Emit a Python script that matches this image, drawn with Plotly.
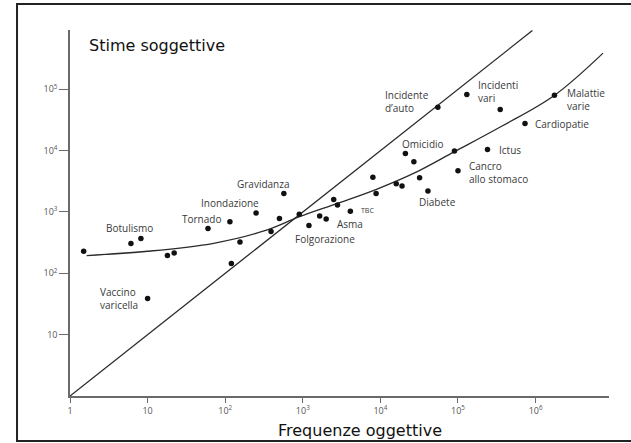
import math
import plotly.graph_objects as go

# ---- data ----
causes = ["", "Botulismo", "", "", "", "Vaccino<br>varicella", "", "Tornado", "", "",
          "Inondazione", "", "", "Gravidanza", "", "Folgorazione", "", "Asma", "", "",
          "TBC", "", "", "", "", "", "Diabete", "Omicidio", "", "",
          "Cancro<br>allo stomaco", "Ictus", "Incidente<br>d’auto", "Incidenti<br>vari", "",
          "Cardiopatie", "Malattie<br>varie"]
freq_oggettive = [1.5, 6.1, 8.2, 18, 22, 10, 60, 115, 155, 120,
                  250, 390, 500, 570, 900, 1200, 1650, 2000, 2500, 2800,
                  4100, 8000, 8800, 16000, 19000, 32000, 41000, 21000, 27000, 90000,
                  100000, 240000, 55000, 130000, 350000, 730000, 1750000]
stime_soggettive = [230, 305, 370, 195, 215, 39, 540, 690, 325, 145,
                    960, 480, 780, 2000, 920, 600, 860, 770, 1600, 1300,
                    1030, 3700, 2000, 2900, 2650, 3600, 2200, 9000, 6600, 9900,
                    4700, 10400, 51000, 82000, 47000, 27600, 80000]

# fitted curve, points
curve_x = [1.64, 10, 71, 316, 890, 2800, 8900, 28000, 89000, 355000, 1740000, 7400000]
curve_y = [195, 229, 309, 490, 830, 1380, 2340, 4370, 9550, 24500, 79400, 389000]

# identity line (stima = frequenza)
diag_x = [1, 910000]
diag_y = [1, 910000]

x_ticks = [1, 10, 100, 1000, 10000, 100000, 1000000]
x_ticktext = ["1", "10", "10<sup>2</sup>", "10<sup>3</sup>", "10<sup>4</sup>", "10<sup>5</sup>", "10<sup>6</sup>"]
y_ticks = [10, 100, 1000, 10000, 100000]
y_ticktext = ["10", "10<sup>2</sup>", "10<sup>3</sup>", "10<sup>4</sup>", "10<sup>5</sup>"]

title_y = "Stime soggettive"
title_x = "Frequenze oggettive"

# ---- figure ----
LINE = "#2a2a2a"
AX = "#6a6a6a"
LAB = "#3a3a3a"
LABFONT = "Open Sans"

fig = go.Figure()
fig.add_trace(go.Scatter(x=diag_x, y=diag_y, mode="lines",
                         line=dict(color=LINE, width=1.3), hoverinfo="skip"))
fig.add_trace(go.Scatter(x=curve_x, y=curve_y, mode="lines",
                         line=dict(color=LINE, width=1.3, shape="spline", smoothing=1.0),
                         hoverinfo="skip"))
fig.add_trace(go.Scatter(x=freq_oggettive, y=stime_soggettive, mode="markers",
                         marker=dict(color="#111111", size=5.5), cliponaxis=False))

# label placement: (xanchor, dx px, dy px up, align)
placement = {
    "Botulismo": ("center", -1, 15.3, "center"),
    "Tornado": ("right", -7.3, 2.7, "center"),
    "Inondazione": ("center", -26.3, 10.4, "center"),
    "Gravidanza": ("center", -20.4, 10, "center"),
    "Folgorazione": ("center", 16.2, -13, "center"),
    "Asma": ("left", 8.6, -4.6, "left"),
    "TBC": ("left", 8.3, 1, "left"),
    "Omicidio": ("center", 17.3, 9.7, "center"),
    "Diabete": ("center", 10, -11.3, "center"),
    "Cancro<br>allo stomaco": ("left", 9, -1.5, "left"),
    "Ictus": ("left", 9.7, 0, "left"),
    "Cardiopatie": ("left", 8.3, 0, "left"),
    "Malattie<br>varie": ("left", 10.7, -4.2, "left"),
    "Incidenti<br>vari": ("left", 9, 3.5, "left"),
    "Incidente<br>d’auto": ("right", -7, 6.2, "left"),
    "Vaccino<br>varicella": ("right", -8, 0.3, "left"),
}

annotations = []
for name, fx, sy in zip(causes, freq_oggettive, stime_soggettive):
    if not name:
        continue
    xa, dx, dy, al = placement[name]
    size = 7 if name == "TBC" else 10
    annotations.append(dict(
        x=math.log10(fx), y=math.log10(sy), xref="x", yref="y",
        text=name, showarrow=False, xanchor=xa, yanchor="middle", align=al,
        xshift=dx, yshift=dy, font=dict(family=LABFONT, size=size, color=LAB)))

annotations.append(dict(x=0.031, y=0.959, xref="paper", yref="paper", text=title_y,
                        showarrow=False, xanchor="left", yanchor="middle",
                        font=dict(family="DejaVu Sans", size=16, color="#111111")))
annotations.append(dict(x=0.5375, y=-0.0929, xref="paper", yref="paper", text=title_x,
                        showarrow=False, xanchor="center", yanchor="middle",
                        font=dict(family="DejaVu Sans", size=16, color="#111111")))

fig.update_layout(
    width=631, height=443,
    margin=dict(l=70, r=22, t=30, b=47),
    paper_bgcolor="white", plot_bgcolor="white",
    showlegend=False,
    annotations=annotations,
    shapes=[dict(type="rect", xref="paper", yref="paper",
                 x0=-0.0983, x1=1.06, y0=-0.123, y1=1.071,
                 line=dict(color="#222222", width=2), layer="below")],
    xaxis=dict(type="log", range=[0, 6.946], showgrid=False, zeroline=False,
               showline=True, linecolor=AX, linewidth=1.5,
               ticks="outside", ticklen=5, tickcolor=AX, tickwidth=1,
               tickvals=x_ticks, ticktext=x_ticktext,
               tickfont=dict(family=LABFONT, size=9, color="#555555")),
    yaxis=dict(type="log", range=[0, 5.967], showgrid=False, zeroline=False,
               showline=True, linecolor=AX, linewidth=1.5,
               ticks="outside", ticklen=9, tickcolor=AX, tickwidth=1,
               tickvals=y_ticks, ticktext=y_ticktext,
               tickfont=dict(family=LABFONT, size=9, color="#555555")),
)

fig.write_html("out.html", config={"displayModeBar": False},
               post_script="document.body.style.margin='0';document.body.style.overflow='hidden';")
